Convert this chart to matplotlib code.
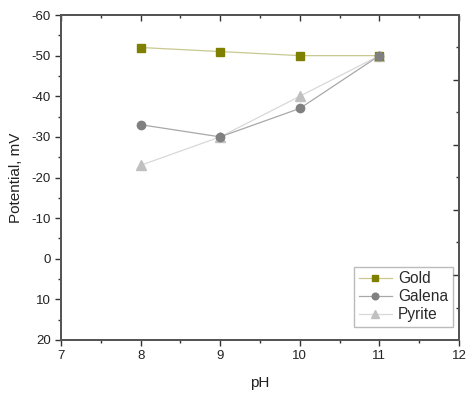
import matplotlib
matplotlib.use("Agg")
import matplotlib.pyplot as plt
from matplotlib.ticker import MultipleLocator

plt.rcParams['font.family'] = ['Liberation Sans', 'DejaVu Sans']
plt.rcParams['axes.unicode_minus'] = False

ph = [8, 9, 10, 11]
gold = [-52, -51, -50, -50]
galena = [-33, -30, -37, -50]
pyrite = [-23, -30, -40, -50]

fig = plt.figure(figsize=(4.74, 3.96), dpi=100)
ax = fig.add_axes([61/474, 1-340/396, (459-61)/474, (340-15)/396])

ax.plot(ph, gold, color='#c8c890', lw=0.9, marker='s', ms=5.5,
        mfc='#808000', mec='#808000', label='Gold', zorder=3)
ax.plot(ph, galena, color='#a8a8a8', lw=0.9, marker='o', ms=6,
        mfc='#808080', mec='#808080', label='Galena', zorder=3)
ax.plot(ph, pyrite, color='#d8d8d8', lw=0.9, marker='^', ms=6.5,
        mfc='#c0c0c0', mec='#c0c0c0', label='Pyrite', zorder=2)

ax.set_xlim(7, 12)
ax.set_ylim(20, -60)
ax.xaxis.set_major_locator(MultipleLocator(1))
ax.xaxis.set_minor_locator(MultipleLocator(0.5))
ax.yaxis.set_major_locator(MultipleLocator(10))
ax.yaxis.set_minor_locator(MultipleLocator(5))
ax.tick_params(axis='both', which='major', direction='out', length=4, width=1.0,
               labelsize=9.5, colors='#333333', labelcolor='#222222')
ax.tick_params(axis='both', which='minor', direction='out', length=2.5, width=1.0,
               colors='#333333')
for s in ax.spines.values():
    s.set_color('#555555')
    s.set_linewidth(1.3)

axt = ax.twiny()
axt.set_xlim(7, 12)
axt.xaxis.set_major_locator(MultipleLocator(1))
axt.xaxis.set_minor_locator(MultipleLocator(0.5))
axt.tick_params(axis='x', which='major', direction='in', length=4, width=1.0,
                colors='#333333', labeltop=False)
axt.tick_params(axis='x', which='minor', direction='in', length=2.5, width=1.0,
                colors='#333333')
axr = ax.twinx()
axr.set_ylim(0, 1)
axr.set_yticks([0.2, 0.4, 0.6, 0.8])
axr.set_yticks([0.1, 0.3, 0.5, 0.7, 0.9], minor=True)
axr.tick_params(axis='y', which='major', direction='in', length=4, width=1.0,
                colors='#333333', labelright=False)
axr.tick_params(axis='y', which='minor', direction='in', length=2.5, width=1.0,
                colors='#333333')
for a in (axt, axr):
    for s in a.spines.values():
        s.set_color('#555555')
        s.set_linewidth(1.3)

ax.set_xlabel('pH', fontsize=11, color='#222222', labelpad=10)
ax.set_ylabel('Potential, mV', fontsize=11, color='#222222', labelpad=6)

leg = ax.legend(loc='lower right', bbox_to_anchor=(0.992, 0.03), fontsize=11.2,
                frameon=True, fancybox=False, edgecolor='#aaaaaa',
                handlelength=2.1, borderpad=0.3, labelspacing=0.2,
                handletextpad=0.4, borderaxespad=0.2, markerscale=0.8,
                labelcolor='#2a2a2a')
leg.get_frame().set_linewidth(1.0)

fig.savefig('out.png', dpi=100)
